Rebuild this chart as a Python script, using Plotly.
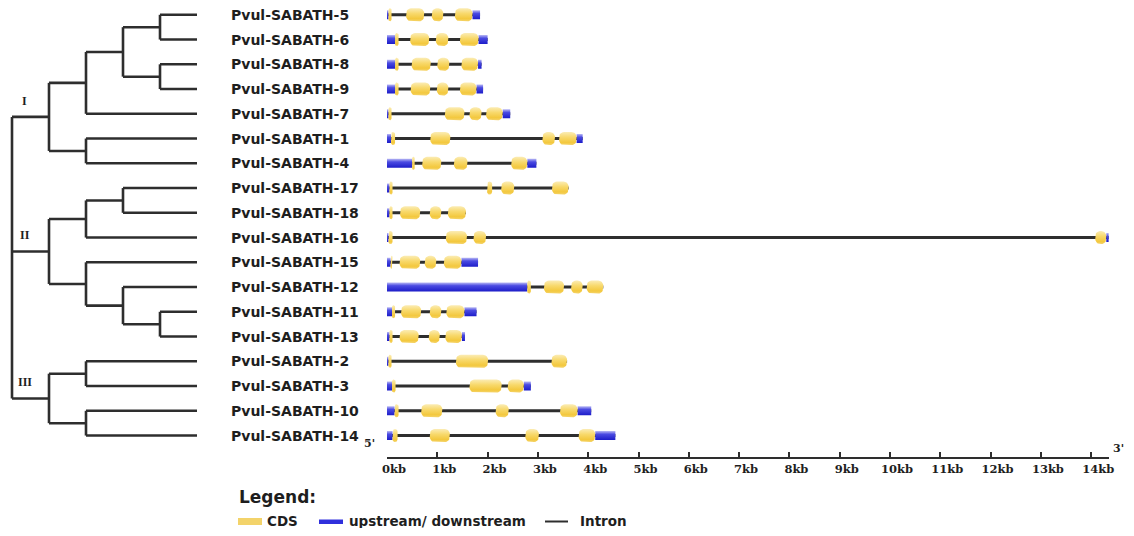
import math
import plotly.graph_objects as go

# ---------------- data ----------------
TREE = (
    (((("5", "6"), ("8", "9")), "7"), ("1", "4")),
    ((("17", "18"), "16"), ("15", ("12", ("11", "13")))),
    (("2", "3"), ("10", "14")),
)
CLADE_LABELS = ["I", "II", "III"]
GENE_PREFIX = "Pvul-SABATH-"

# upstream / downstream segments (kb)
UTR = {
    "5": [(0.00, 0.03), (1.70, 1.85)],
    "6": [(0.00, 0.16), (1.82, 2.00)],
    "8": [(0.00, 0.16), (1.81, 1.88)],
    "9": [(0.00, 0.16), (1.78, 1.91)],
    "7": [(0.00, 0.03), (2.30, 2.45)],
    "1": [(0.00, 0.08), (3.77, 3.89)],
    "4": [(0.00, 0.50), (2.79, 2.97)],
    "17": [(0.00, 0.05)],
    "18": [(0.00, 0.05)],
    "16": [(0.00, 0.03), (14.30, 14.35)],
    "15": [(0.00, 0.07), (1.48, 1.81)],
    "12": [(0.00, 2.79)],
    "11": [(0.00, 0.10), (1.54, 1.78)],
    "13": [(0.00, 0.05), (1.49, 1.55)],
    "2": [(0.00, 0.03)],
    "3": [(0.00, 0.10), (2.72, 2.86)],
    "10": [(0.00, 0.15), (3.79, 4.06)],
    "14": [(0.00, 0.11), (4.14, 4.54)],
}
# CDS segments (kb)
CDS = {
    "5": [(0.03, 0.09), (0.38, 0.74), (0.89, 1.12), (1.35, 1.70)],
    "6": [(0.16, 0.23), (0.46, 0.84), (0.97, 1.22), (1.45, 1.82)],
    "8": [(0.16, 0.23), (0.49, 0.87), (1.00, 1.24), (1.48, 1.81)],
    "9": [(0.16, 0.23), (0.47, 0.86), (0.99, 1.22), (1.45, 1.78)],
    "7": [(0.03, 0.09), (1.15, 1.54), (1.64, 1.88), (1.97, 2.30)],
    "1": [(0.08, 0.16), (0.86, 1.26), (3.09, 3.34), (3.42, 3.77)],
    "4": [(0.50, 0.55), (0.70, 1.08), (1.33, 1.60), (2.47, 2.79)],
    "17": [(0.05, 0.11), (1.99, 2.09), (2.27, 2.53), (3.28, 3.61)],
    "18": [(0.05, 0.11), (0.26, 0.66), (0.85, 1.08), (1.21, 1.57)],
    "16": [(0.03, 0.11), (1.17, 1.59), (1.72, 1.97), (14.08, 14.30)],
    "15": [(0.07, 0.11), (0.25, 0.66), (0.75, 0.98), (1.13, 1.48)],
    "12": [(2.79, 2.86), (3.12, 3.52), (3.66, 3.89), (3.97, 4.30)],
    "11": [(0.10, 0.16), (0.28, 0.68), (0.85, 1.08), (1.18, 1.54)],
    "13": [(0.05, 0.11), (0.25, 0.63), (0.83, 1.05), (1.16, 1.49)],
    "2": [(0.03, 0.09), (1.37, 2.01), (3.27, 3.58)],
    "3": [(0.10, 0.17), (1.64, 2.28), (2.40, 2.72)],
    "10": [(0.15, 0.23), (0.68, 1.10), (2.16, 2.42), (3.44, 3.79)],
    "14": [(0.11, 0.21), (0.85, 1.25), (2.75, 3.02), (3.81, 4.14)],
}
TICK_KB = list(range(0, 15))
TICK_TEXT = [f"{k}kb" for k in TICK_KB]
LEGEND_TITLE = "Legend:"
LEGEND_ITEMS = ["CDS", "upstream/ downstream", "Intron"]

# ---------------- styling / geometry ----------------
PAGE_W, PAGE_H, BODY_MARGIN = 1134, 536, 8
W, H = PAGE_W - 2 * BODY_MARGIN, PAGE_H - 2 * BODY_MARGIN


def fx(p):  # page pixel -> figure pixel
    return p - BODY_MARGIN


ROW0_PX, ROW_PX = fx(14.8), 24.75
TREE_X0_PX, TREE_STEP_PX = fx(12), 37
AXIS_X0_PX, PX_PER_KB = fx(387), 50.3
AXIS_Y_PX = fx(458)
CDS_H_PX, UTR_H_PX, INTRON_H_PX, CDS_R_PX = 13, 9, 3, 5
CDS_SCALE = [[0, "#FBECB4"], [0.4, "#F8D96C"], [0.8, "#F3C83E"], [1, "#F5D46C"]]
UTR_SCALE = [[0, "#B8B8F4"], [0.35, "#4B4BE2"], [1, "#1C1CC8"]]
CDS_COLOR = "#F3D36A"
UTR_COLOR = "#3030DC"
LINE_COLOR = "#2E2E2E"
TEXT_COLOR = "#1E1E1E"

# ---------------- tree layout ----------------
def max_depth(n):
    return 0 if isinstance(n, str) else 1 + max(max_depth(c) for c in n)


TIP = max_depth(TREE)
leaves = []
tx, ty = [], []
clade_pos = []


def place(node, depth):
    if isinstance(node, str):
        leaves.append(node)
        return float(len(leaves))
    ys = [place(c, depth + 1) for c in node]
    tx.extend([depth, depth, None])
    ty.extend([min(ys), max(ys), None])
    for c, yc in zip(node, ys):
        cx = TIP if isinstance(c, str) else depth + 1
        tx.extend([depth, cx, None])
        ty.extend([yc, yc, None])
        if depth == 0:
            clade_pos.append((depth + 1, yc))
    return (min(ys) + max(ys)) / 2


place(TREE, 0)
row_of = {g: i + 1 for i, g in enumerate(leaves)}
max_end = max(max(e for _, e in UTR[g] + CDS[g]) for g in leaves)


def rounded_rect(s, e, yc, h_px, r_px, n=6):
    """Polygon (data units) of a rounded rectangle spanning s..e kb, centred on row yc."""
    w_px = (e - s) * PX_PER_KB
    r = max(0.0, min(r_px, w_px / 2, h_px / 2))
    rx, ry = r / PX_PER_KB, r / ROW_PX
    hy = h_px / 2 / ROW_PX
    xs, ys = [], []
    corners = [(e - rx, yc - hy + ry, -90, 0), (e - rx, yc + hy - ry, 0, 90),
               (s + rx, yc + hy - ry, 90, 180), (s + rx, yc - hy + ry, 180, 270)]
    for cx, cy, a0, a1 in corners:
        for k in range(n + 1):
            a = math.radians(a0 + (a1 - a0) * k / n)
            xs.append(cx + rx * math.cos(a))
            ys.append(cy + ry * math.sin(a))
    xs.append(xs[0]); ys.append(ys[0])
    return xs, ys


fig = go.Figure()

# tree
fig.add_trace(go.Scatter(x=tx, y=ty, mode="lines", xaxis="x2", yaxis="y",
                         line=dict(color=LINE_COLOR, width=2.6), hoverinfo="skip",
                         showlegend=False))

# intron backbone (bars sit beneath the scatter-drawn exons)
bb_y = [row_of[g] for g in leaves]
bb_b = [min(s for s, _ in UTR[g] + CDS[g]) for g in leaves]
bb_x = [max(e for _, e in UTR[g] + CDS[g]) - b for g, b in zip(leaves, bb_b)]
fig.add_trace(go.Bar(y=bb_y, x=bb_x, base=bb_b, orientation="h",
                     width=INTRON_H_PX / ROW_PX,
                     marker=dict(color=LINE_COLOR, line=dict(width=0)),
                     showlegend=False, hoverinfo="skip"))

# UTRs and CDS, one gradient-filled trace per gene and feature type
for feats, h_px, r_px, scale in ((UTR, UTR_H_PX, 0, UTR_SCALE),
                                 (CDS, CDS_H_PX, CDS_R_PX, CDS_SCALE)):
    for g in leaves:
        yc = row_of[g]
        xs, ys = [], []
        for s, e in feats[g]:
            px_, py_ = rounded_rect(s, e, yc, h_px, r_px, n=6 if r_px else 1)
            xs += px_ + [None]
            ys += py_ + [None]
        hy = h_px / 2 / ROW_PX
        fig.add_trace(go.Scatter(
            x=xs, y=ys, mode="lines", fill="toself",
            line=dict(width=0, color="rgba(0,0,0,0)"),
            fillgradient=dict(type="vertical", colorscale=scale,
                              start=yc - hy, stop=yc + hy),
            hoverinfo="skip", showlegend=False, cliponaxis=False))

annotations = []
for g in leaves:
    annotations.append(dict(xref="x2", yref="y", x=TIP, y=row_of[g], xshift=32,
                            text=GENE_PREFIX + g, showarrow=False, xanchor="left",
                            yanchor="middle",
                            font=dict(family="DejaVu Sans", size=14, color=TEXT_COLOR,
                                      weight="bold")))
for lab, (cx, cyy) in zip(CLADE_LABELS, clade_pos):
    annotations.append(dict(xref="x2", yref="y", x=0.5 * cx, y=cyy, xshift=-6, yshift=16,
                            text=lab, showarrow=False, xanchor="center", yanchor="middle",
                            font=dict(family="Liberation Serif", size=12, color=TEXT_COLOR,
                                      weight="bold")))
annotations.append(dict(xref="x", yref="paper", x=0, y=1 - fx(443) / H, xshift=-18,
                        text="5'", showarrow=False, xanchor="center", yanchor="middle",
                        font=dict(family="DejaVu Serif", size=11, color=TEXT_COLOR,
                                  weight="bold")))
annotations.append(dict(xref="x", yref="paper", x=max_end, y=1 - fx(448) / H, xshift=10,
                        text="3'", showarrow=False, xanchor="center", yanchor="middle",
                        font=dict(family="DejaVu Serif", size=11, color=TEXT_COLOR,
                                  weight="bold")))
annotations.append(dict(xref="paper", yref="paper", x=fx(237) / W, y=1 - fx(497) / H,
                        text=LEGEND_TITLE, showarrow=False, xanchor="left", yanchor="middle",
                        font=dict(family="DejaVu Sans", size=17, color=TEXT_COLOR,
                                  weight="bold")))
for t, lx in zip(LEGEND_ITEMS, [266, 348, 579]):
    annotations.append(dict(xref="paper", yref="paper", x=fx(lx) / W, y=1 - fx(520.5) / H,
                            text=t, showarrow=False, xanchor="left", yanchor="middle",
                            borderpad=0,
                            font=dict(family="DejaVu Sans", size=13.5, color=TEXT_COLOR,
                                      weight="bold")))


def prect(x0, x1, y0, y1, **kw):
    return dict(type="rect", xref="paper", yref="paper", x0=fx(x0) / W, x1=fx(x1) / W,
                y0=1 - fx(y1) / H, y1=1 - fx(y0) / H, line=dict(width=0), **kw)


shapes = [
    prect(238, 262, 518, 525, fillcolor=CDS_COLOR),
    prect(319, 343, 519.5, 524, fillcolor=UTR_COLOR),
    dict(type="line", xref="paper", yref="paper", x0=fx(545) / W, x1=fx(568) / W,
         y0=1 - fx(521.5) / H, y1=1 - fx(521.5) / H, line=dict(color=LINE_COLOR, width=2)),
]

y_top = 1 - ROW0_PX / ROW_PX
y_bot = y_top + H / ROW_PX

fig.update_layout(
    width=W, height=H, margin=dict(l=0, r=0, t=0, b=0),
    paper_bgcolor="white", plot_bgcolor="rgba(0,0,0,0)",
    barmode="overlay", showlegend=False,
    font=dict(family="DejaVu Sans", color=TEXT_COLOR),
    xaxis=dict(domain=[AXIS_X0_PX / W, (AXIS_X0_PX + max_end * PX_PER_KB) / W],
               range=[0, max_end], anchor="free", position=1 - AXIS_Y_PX / H,
               showline=True, linecolor=LINE_COLOR, linewidth=2,
               ticks="inside", ticklen=5, tickwidth=2, tickcolor=LINE_COLOR,
               tickvals=TICK_KB, ticktext=TICK_TEXT, showgrid=False, zeroline=False,
               ticklabelshift=7,
               tickfont=dict(family="DejaVu Serif", size=11.5, color=TEXT_COLOR,
                             weight="bold"),
               automargin=False, fixedrange=True),
    xaxis2=dict(domain=[0, 1], anchor="y",
                range=[-TREE_X0_PX / TREE_STEP_PX, (W - TREE_X0_PX) / TREE_STEP_PX],
                visible=False, fixedrange=True),
    yaxis=dict(domain=[0, 1], range=[y_bot, y_top], visible=False, fixedrange=True,
               anchor="x2"),
    annotations=annotations, shapes=shapes,
)

fig.write_html("out.html")
